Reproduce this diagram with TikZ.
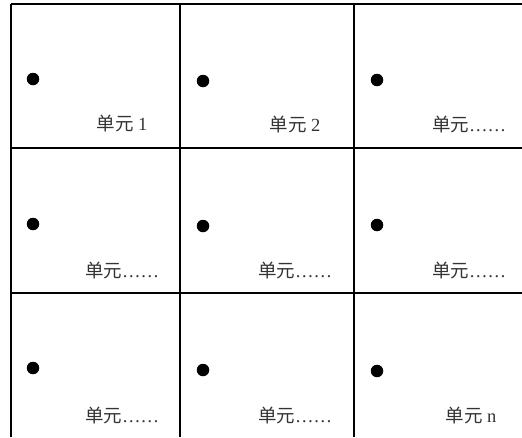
\documentclass[tikz,border=0pt]{standalone}
\usepackage{fontspec}
\setmainfont{Liberation Serif}
\newfontfamily\cjk{Noto Sans CJK SC}
\begin{document}
\begin{tikzpicture}[x=1pt,y=-1pt,
  gridline/.style={line width=1.3pt,black},
  dotmark/.style={circle,fill=black,inner sep=0pt,minimum size=12.5pt},
  unitlabel/.style={inner sep=0pt,anchor=center,text=black!80,font=\fontsize{18.5}{20}\selectfont}]
\useasboundingbox (0,0) rectangle (522,437);
% grid
\draw[gridline] (11,4) -- (522,4);
\draw[gridline] (11,148) -- (522,148);
\draw[gridline] (11,293) -- (522,293);
\draw[gridline] (11,4) -- (11,437);
\draw[gridline] (180,4) -- (180,437);
\draw[gridline] (354,4) -- (354,437);
% dots
\node[dotmark] (d11) at (33,79) {};
\node[dotmark] (d12) at (203,81) {};
\node[dotmark] (d13) at (377,80) {};
\node[dotmark] (d21) at (33,224) {};
\node[dotmark] (d22) at (203,226) {};
\node[dotmark] (d23) at (377,225) {};
\node[dotmark] (d31) at (33,368) {};
\node[dotmark] (d32) at (203,370) {};
\node[dotmark] (d33) at (377,371) {};
% labels
\node[unitlabel] (l11) at (122,123) {{\cjk 单元} 1};
\node[unitlabel] (l12) at (295,124) {{\cjk 单元} 2};
\node[unitlabel] (l13) at (469,124) {{\cjk 单元}……};
\node[unitlabel] (l21) at (122,270) {{\cjk 单元}……};
\node[unitlabel] (l22) at (295,270) {{\cjk 单元}……};
\node[unitlabel] (l23) at (469,270) {{\cjk 单元}……};
\node[unitlabel] (l31) at (122,415) {{\cjk 单元}……};
\node[unitlabel] (l32) at (295,415) {{\cjk 单元}……};
\node[unitlabel] (l33) at (471,415) {{\cjk 单元} n};
\end{tikzpicture}
\end{document}
